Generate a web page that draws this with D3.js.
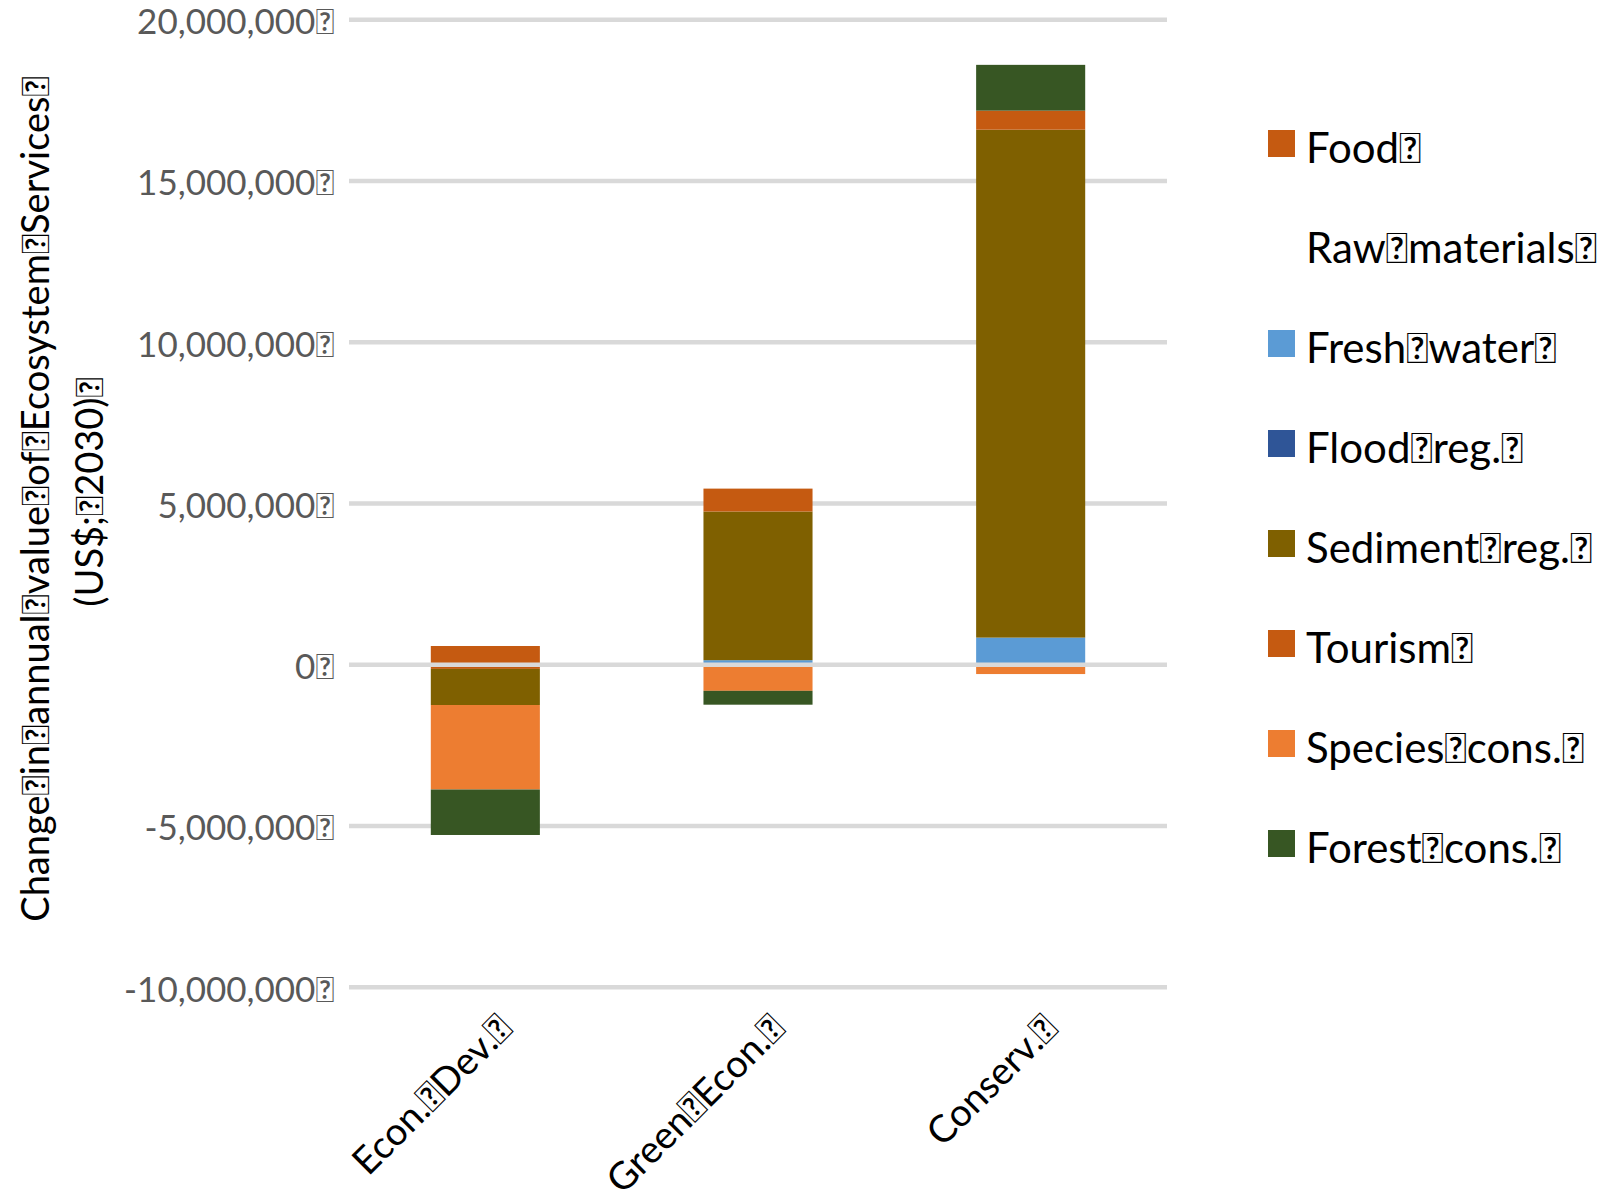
<!DOCTYPE html>
<html>
<head>
<meta charset="utf-8">
<script src="https://cdn.jsdelivr.net/npm/d3@7"></script>
<style>
  body { margin: 0; background: #ffffff; }
  svg text { font-family: Lato, "Open Sans", sans-serif; }
</style>
</head>
<body>
<svg id="chart" width="1619" height="1201"></svg>
<script>
// Scenario categories (labels carry the original symbol-font spacer glyph)
const categories = ["Econ.\uF020Dev.\uF020", "Green\uF020Econ.\uF020", "Conserv.\uF020"];

// Ecosystem service series, in stacking order
const seriesNames = [
  "Food\uF020", "Raw\uF020materials\uF020", "Fresh\uF020water\uF020", "Flood\uF020reg.\uF020",
  "Sediment\uF020reg.\uF020", "Tourism\uF020", "Species\uF020cons.\uF020", "Forest\uF020cons.\uF020"
];
const seriesColors = ["#c55a11", "#ffffff", "#5b9bd5", "#2f5597", "#7f6000", "#c55a11", "#ed7d31", "#375623"];

// Change in annual value per scenario (US$, 2030)
const food         = [-130000,        0,        0];
const rawMaterials = [      0,        0,        0];
const freshWater   = [      0,   140000,   840000];
const floodReg     = [      0,        0,        0];
const sedimentReg  = [-1120000, 4610000, 15750000];
const tourism      = [ 580000,   710000,   590000];
const speciesCons  = [-2620000, -810000,  -290000];
const forestCons   = [-1410000, -430000,  1420000];

// Value axis ticks
const yTicks = [-10000000, -5000000, 0, 5000000, 10000000, 15000000, 20000000];
const yTitleLines = [
  "Change\uF020in\uF020annual\uF020value\uF020of\uF020Ecosystem\uF020Services\uF020",
  "(US$;\uF0202030)\uF020"
];

const seriesValues = [food, rawMaterials, freshWater, floodReg, sedimentReg, tourism, speciesCons, forestCons];
const rows = categories.map((c, i) => {
  const r = { category: c };
  seriesNames.forEach((s, j) => { r[s] = seriesValues[j][i]; });
  return r;
});

const svg = d3.select("#chart");
const plot = { left: 349, right: 1167, top: 19.7, bottom: 987.2 };

const x = d3.scaleBand()
  .domain(categories)
  .range([plot.left, plot.right])
  .paddingInner(0.6)
  .paddingOuter(0.3);

const y = d3.scaleLinear()
  .domain([-10000000, 20000000])
  .range([plot.bottom, plot.top]);

// Horizontal gridlines behind the bars
svg.append("g")
  .selectAll("line")
  .data(yTicks.filter(t => t !== 0))
  .join("line")
  .attr("x1", plot.left).attr("x2", plot.right)
  .attr("y1", d => y(d)).attr("y2", d => y(d))
  .attr("stroke", "#d9d9d9")
  .attr("stroke-width", 4.5);

// Tick labels
const fmt = v => d3.format(",")(v).replace("\u2212", "-") + "\uF020";
const yAxis = d3.axisLeft(y).tickValues(yTicks).tickFormat(fmt).tickSize(0).tickPadding(0);
const yAxisG = svg.append("g")
  .attr("transform", `translate(${plot.left - 15},0)`)
  .call(yAxis);
yAxisG.select(".domain").remove();
yAxisG.selectAll("text")
  .attr("fill", "#595959")
  .attr("font-size", 35)
  .attr("dy", "0.4em");

// Stacked bars (positive above zero, negative below)
const stack = d3.stack().keys(seriesNames).offset(d3.stackOffsetDiverging);
const layers = stack(rows);

svg.append("g")
  .selectAll("g")
  .data(layers)
  .join("g")
  .attr("fill", (d, i) => seriesColors[i])
  .selectAll("rect")
  .data(d => d.filter(s => s[1] !== s[0]))
  .join("rect")
  .attr("x", d => x(d.data.category))
  .attr("width", x.bandwidth())
  .attr("y", d => y(Math.max(d[0], d[1])))
  .attr("height", d => Math.abs(y(d[0]) - y(d[1])));

// Category axis line at zero, drawn over the bars
svg.append("line")
  .attr("x1", plot.left).attr("x2", plot.right)
  .attr("y1", y(0)).attr("y2", y(0))
  .attr("stroke", "#d9d9d9")
  .attr("stroke-width", 4.5);

// Rotated category labels below the plot
svg.append("g")
  .selectAll("text")
  .data(categories)
  .join("text")
  .attr("transform", d => `translate(${x(d) + x.bandwidth() / 2 + 29},1031) rotate(-45)`)
  .attr("text-anchor", "end")
  .attr("font-size", 38)
  .attr("fill", "#000000")
  .text(d => d);

// Value axis title
svg.append("g")
  .selectAll("text")
  .data(yTitleLines)
  .join("text")
  .attr("transform", (d, i) => `translate(${i === 0 ? 48.5 : 103},${i === 0 ? 499 : 492}) rotate(-90)`)
  .attr("text-anchor", "middle")
  .attr("font-size", 38)
  .attr("fill", "#000000")
  .text(d => d);

// Legend
const legend = svg.append("g")
  .selectAll("g")
  .data(seriesNames)
  .join("g")
  .attr("transform", (d, i) => `translate(1268,${144 + i * 100})`);
legend.append("rect")
  .attr("x", 0).attr("y", -14)
  .attr("width", 27).attr("height", 27)
  .attr("fill", (d, i) => seriesColors[i]);
legend.append("text")
  .attr("x", 38).attr("y", 19)
  .attr("font-size", 42)
  .attr("fill", "#000000")
  .text(d => d);
</script>
</body>
</html>
